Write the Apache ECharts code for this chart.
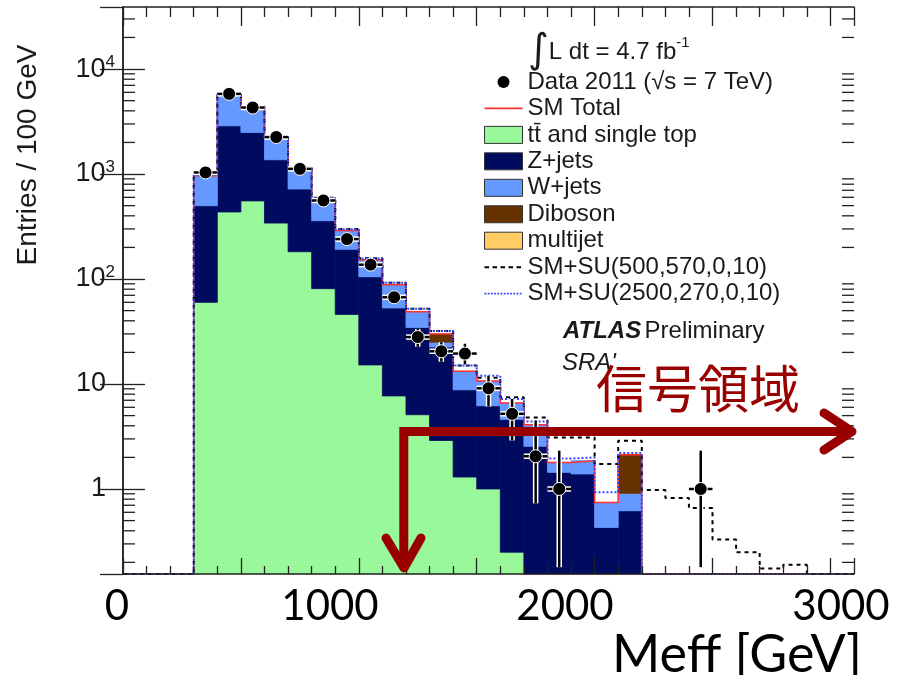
<!DOCTYPE html>
<html>
<head>
<meta charset="utf-8">
<title>Meff</title>
<script src="https://cdn.jsdelivr.net/npm/echarts@6/dist/echarts.min.js"></script>
<style>
html,body{margin:0;padding:0;background:#fff;}
#main{width:901px;height:675px;}
</style>
</head>
<body>
<div id="main"></div>
<script>
// bins of 100 GeV, first filled bin starts at 300 GeV
var binStart = 300;
var binWidth = 100;
var xMax = 3100;
var yMin = 0.155;
var yMax = 39000;

// SM backgrounds, 300 .. 2200 GeV
var ttbar    = [60, 435, 555, 341, 182, 81, 46, 15.2, 7.7, 5.1, 2.9, 1.3, 1.0, 0.25, 0, 0, 0, 0, 0];
var zjets    = [439, 2445, 1935, 1027, 538, 278, 146, 89.8, 45.3, 29.4, 19.6, 7.5, 5.2, 4.35, 2.55, 1.44, 1.39, 0.43, 0.62];
var wjets    = [465, 2900, 1810, 832, 420, 219, 98, 48, 35, 14.3, 2.5, 4.4, 4.5, 2.0, 1.55, 0.35, 0.47, 0.315, 0.29];
var diboson  = [0, 0, 0, 0, 0, 0, 0, 0, 0, 0, 5, 0, 0, 0, 0, 0, 0, 0, 1.21];
var multijet = [0, 0, 0, 0, 0, 0, 0, 0, 0, 0, 0, 0, 0, 0, 0, 0, 0, 0, 0];

// data 2011, 300 .. 2500 GeV (null = no entries)
var dataVal = [1035, 5800, 4300, 2250, 1120, 560, 240, 137, 67, 28, 20.5, 19.5, 9.1, 5.2, 2.05, 1.0, null, null, null, null, null, 1.0];
var dataHi  = [1067, 5876, 4366, 2297, 1153, 584, 256, 149, 75, 33.5, 25, 24.2, 12, 7.2, 4.5, 2.32, null, null, null, null, null, 2.32];
var dataLo  = [1003, 5724, 4234, 2203, 1087, 536, 224, 125, 59, 22.7, 16.3, 15.4, 6.1, 2.9, 0.73, 0.18, null, null, null, null, null, 0.18];

// SM+SU signal hypotheses, 300 .. 3000 GeV
var su500  = [990, 5900, 4400, 2260, 1170, 595, 300, 158, 92, 52, 32, 15, 11.5, 7.5, 4.8, 3.1, 3.1, 1.73, 2.88, 0.98, 0.82, 0.66, 0.33, 0.25, 0.175, 0.19, 0];
var su2500 = [985, 5850, 4350, 2240, 1160, 590, 298, 157, 92, 52, 32, 15, 12, 7.2, 4.4, 1.95, 2.0, 0.93, 2.2, 0, 0, 0, 0, 0, 0, 0, 0];

var xLabels = ['0', '1000', '2000', '3000'];

function clampY(v) {
    return v > yMin ? v : yMin;
}

// stacked layers -> rectangles
var layers = [
    {name: 'tt\u0304 and single top', vals: ttbar, color: '#99f899'},
    {name: 'Z+jets', vals: zjets, color: '#000b5f'},
    {name: 'W+jets', vals: wjets, color: '#6699ff'},
    {name: 'Diboson', vals: diboson, color: '#663300'},
    {name: 'multijet', vals: multijet, color: '#ffcc66'}
];
var cum = [];
for (var i = 0; i < ttbar.length; i++) cum.push(0);
layers.forEach(function (l) {
    l.rows = [];
    for (var i = 0; i < l.vals.length; i++) {
        var lo = cum[i];
        cum[i] += l.vals[i];
        var x0 = binStart + i * binWidth;
        if (l.vals[i] > 0) l.rows.push([x0, x0 + binWidth, lo, cum[i]]);
    }
});
var smTotal = cum;

function stepData(vals) {
    var pts = [];
    for (var x = 0; x < xMax; x += binWidth) {
        var i = (x - binStart) / binWidth;
        var v = (i >= 0 && i < vals.length) ? vals[i] : 0;
        pts.push([x, clampY(v)]);
    }
    pts.push([xMax, pts[pts.length - 1][1]]);
    return pts;
}

var dataRows = [];
for (var j = 0; j < dataVal.length; j++) {
    if (dataVal[j] == null) continue;
    dataRows.push([binStart + (j + 0.5) * binWidth, dataVal[j], dataLo[j], dataHi[j]]);
}

var minorY = [];
for (var k = -1; k <= 4; k++) {
    for (var m = 2; m <= 9; m++) {
        var mv = m * Math.pow(10, k);
        if (mv > yMin && mv < yMax) minorY.push([0, mv]);
    }
}

function histRect(params, api) {
    var p0 = api.coord([api.value(0), clampY(api.value(2))]);
    var p1 = api.coord([api.value(1), clampY(api.value(3))]);
    var c = api.visual('color');
    return {
        type: 'rect',
        shape: {x: p0[0], y: p1[1], width: p1[0] - p0[0], height: p0[1] - p1[1]},
        style: {fill: c, stroke: c, lineWidth: 0.8}
    };
}

function dataPoint(params, api) {
    var x = api.value(0), v = api.value(1);
    var c = api.coord([x, v]);
    var pl = api.coord([x - binWidth / 2, v]);
    var pr = api.coord([x + binWidth / 2, v]);
    var plo = api.coord([x, clampY(api.value(2))]);
    var phi = api.coord([x, api.value(3)]);
    var kids = [];
    [['#fff', 5.5], ['#000', 2.5]].forEach(function (s) {
        kids.push({type: 'line', shape: {x1: pl[0], y1: c[1], x2: pr[0], y2: c[1]}, style: {stroke: s[0], lineWidth: s[1]}});
        kids.push({type: 'line', shape: {x1: c[0], y1: plo[1], x2: c[0], y2: phi[1]}, style: {stroke: s[0], lineWidth: s[1]}});
    });
    kids.push({type: 'circle', shape: {cx: c[0], cy: c[1], r: 6.5}, style: {fill: '#000', stroke: '#fff', lineWidth: 1}});
    return {type: 'group', children: kids};
}

function minorTick(params, api) {
    var pl = api.coord([0, api.value(1)]);
    var pr = api.coord([xMax, api.value(1)]);
    return {type: 'group', children: [
        {type: 'line', shape: {x1: pl[0], y1: pl[1], x2: pl[0] + 12, y2: pl[1]}, style: {stroke: '#222', lineWidth: 1.3}},
        {type: 'line', shape: {x1: pr[0], y1: pr[1], x2: pr[0] - 12, y2: pr[1]}, style: {stroke: '#222', lineWidth: 1.3}}
    ]};
}

// legend icons
var iconDot = 'path://M0,0M38,17M25,8.5A6,6,0,1,1,13,8.5A6,6,0,1,1,25,8.5Z';
var iconSolid = 'path://M0,0M38,17M0,7.6L38,7.6L38,9.4L0,9.4Z';
var iconDash = 'path://M0,0M38,17';
for (var dx = 0; dx < 38; dx += 8) iconDash += 'M' + dx + ',7.5L' + (dx + 4.5) + ',7.5L' + (dx + 4.5) + ',9.5L' + dx + ',9.5Z';
var iconDot2 = 'path://M0,0M38,17';
for (var dd = 0; dd < 37; dd += 3.2) iconDot2 += 'M' + dd + ',7.6L' + (dd + 1.8) + ',7.6L' + (dd + 1.8) + ',9.4L' + dd + ',9.4Z';

var boxStyle = {borderColor: '#333', borderWidth: 1};
var txt = '#1a1a1a';
var red = '#990000';

var series = [];
layers.forEach(function (l) {
    series.push({
        name: l.name, type: 'custom', renderItem: histRect,
        encode: {x: [0, 1], y: [2, 3]},
        itemStyle: {color: l.color}, z: 2, silent: true, data: l.rows
    });
});
series.push({
    name: 'SM Total', type: 'line', step: 'end', symbol: 'none', color: '#ff3030',
    lineStyle: {color: '#ff3030', width: 1.5}, z: 3, silent: true, data: stepData(smTotal)
});
series.push({
    name: 'SM+SU(500,570,0,10)', type: 'line', step: 'end', symbol: 'none', color: '#000',
    lineStyle: {color: '#000', width: 2, type: [4, 4]}, z: 3, silent: true, data: stepData(su500)
});
series.push({
    name: 'SM+SU(2500,270,0,10)', type: 'line', step: 'end', symbol: 'none', color: '#3344ff',
    lineStyle: {color: '#3344ff', width: 2, type: [2, 2]}, z: 3, silent: true, data: stepData(su2500)
});
series.push({
    name: 'Data 2011 (\u221As = 7 TeV)', type: 'custom', renderItem: dataPoint,
    encode: {x: 0, y: 1}, itemStyle: {color: '#000'}, z: 4, silent: true, data: dataRows
});
series.push({
    name: 'minor', type: 'custom', renderItem: minorTick, encode: {x: 0, y: 1},
    z: 6, silent: true, data: minorY
});

var axisLine = {lineStyle: {color: '#222', width: 1.5}};

var myChart = echarts.init(document.getElementById('main'));
option = {
    animation: false,
    backgroundColor: '#fff',
    grid: {left: 123, right: 47, top: 7, bottom: 101},
    xAxis: [{
        type: 'value', min: 0, max: xMax, interval: 500, position: 'bottom', z: 6,
        axisLine: axisLine, axisLabel: {show: false}, splitLine: {show: false},
        axisTick: {inside: true, length: 16, lineStyle: {color: '#222', width: 1.3}},
        minorTick: {show: true, splitNumber: 5, length: 8, lineStyle: {color: '#222', width: 1.3}}
    }, {
        type: 'value', min: 0, max: xMax, interval: 500, position: 'top', z: 6,
        axisLine: axisLine, axisLabel: {show: false}, splitLine: {show: false},
        axisTick: {inside: true, length: 19, lineStyle: {color: '#222', width: 1.3}},
        minorTick: {show: true, splitNumber: 5, length: 10, lineStyle: {color: '#222', width: 1.3}}
    }],
    yAxis: [{
        type: 'log', logBase: 10, min: yMin, max: yMax, position: 'left', z: 6,
        axisLine: axisLine, splitLine: {show: false},
        axisTick: {inside: true, length: 22, lineStyle: {color: '#222', width: 1.3}},
        axisLabel: {
            margin: 8, showMinLabel: false, showMaxLabel: false,
            formatter: function (v) {
                if (Math.abs(v - 1) < 1e-6) return '{p|1}';
                if (Math.abs(v - 10) < 1e-6) return '{p|10}';
                var e = Math.round(Math.log(v) / Math.LN10);
                return '{n|10}{s|' + e + '}';
            },
            rich: {
                n: {fontFamily: 'Liberation Sans', fontSize: 27, color: txt, lineHeight: 30},
                p: {fontFamily: 'Liberation Sans', fontSize: 27, color: txt, lineHeight: 30, padding: [0, 9, 0, 0]},
                s: {fontFamily: 'Liberation Sans', fontSize: 17, color: txt, lineHeight: 30, verticalAlign: 'top'}
            }
        }
    }, {
        type: 'log', logBase: 10, min: yMin, max: yMax, position: 'right', z: 6,
        axisLine: axisLine, splitLine: {show: false}, axisLabel: {show: false},
        axisTick: {inside: true, length: 23, lineStyle: {color: '#222', width: 1.3}}
    }],
    legend: {
        orient: 'vertical', left: 479, top: 65,
        itemWidth: 38, itemHeight: 17, itemGap: 2.45, selectedMode: false,
        textStyle: {fontFamily: 'Liberation Sans', fontSize: 24, color: txt},
        data: [
            {name: 'Data 2011 (\u221As = 7 TeV)', icon: iconDot},
            {name: 'SM Total', icon: iconSolid},
            {name: 'tt\u0304 and single top', icon: 'rect', itemStyle: boxStyle},
            {name: 'Z+jets', icon: 'rect', itemStyle: boxStyle},
            {name: 'W+jets', icon: 'rect', itemStyle: boxStyle},
            {name: 'Diboson', icon: 'rect', itemStyle: boxStyle},
            {name: 'multijet', icon: 'rect', itemStyle: boxStyle},
            {name: 'SM+SU(500,570,0,10)', icon: iconDash},
            {name: 'SM+SU(2500,270,0,10)', icon: iconDot2}
        ]
    },
    graphic: [
        {type: 'text', x: 28, y: 155, rotation: Math.PI / 2,
            style: {text: 'Entries / 100 GeV', fill: txt, font: '28px "Liberation Sans"', textAlign: 'center', textVerticalAlign: 'middle'}},
        {type: 'text', x: 528, y: 52,
            style: {text: '{i|\u222B}{t|L dt = 4.7 fb}{s|-1}', textVerticalAlign: 'middle',
                rich: {
                    i: {fontFamily: 'DejaVu Sans', fontSize: 40, fill: txt, lineHeight: 46},
                    t: {fontFamily: 'Liberation Sans', fontSize: 24, fill: txt, lineHeight: 46},
                    s: {fontFamily: 'Liberation Sans', fontSize: 15, fill: txt, lineHeight: 46, verticalAlign: 'top', padding: [6, 0, 0, 0]}
                }}},
        {type: 'text', x: 563, y: 331,
            style: {text: '{b|ATLAS} {n|Preliminary}', textVerticalAlign: 'middle',
                rich: {
                    b: {fontFamily: 'Liberation Sans', fontSize: 24, fontWeight: 'bold', fontStyle: 'italic', fill: txt},
                    n: {fontFamily: 'Liberation Sans', fontSize: 24, fill: txt}
                }}},
        {type: 'text', x: 562, y: 363,
            style: {text: "SRA'", fill: txt, font: 'italic 24px "Liberation Sans"', textVerticalAlign: 'middle'}},
        // slide overlay: signal region
        {type: 'text', x: 596, y: 389, z: 120,
            style: {text: '信号領域', fill: red, font: '51px "Noto Sans CJK JP"', textVerticalAlign: 'middle'}},
        {type: 'polyline', z: 120, shape: {points: [[403.8, 566], [403.8, 431.5], [850, 431.5]]},
            style: {stroke: red, lineWidth: 9, fill: null, lineJoin: 'miter'}},
        {type: 'polyline', z: 120, shape: {points: [[824, 413], [852, 431.5], [824, 450]]},
            style: {stroke: red, lineWidth: 9, fill: null, lineCap: 'round', lineJoin: 'round'}},
        {type: 'polyline', z: 120, shape: {points: [[386, 538], [404, 568], [421, 538]]},
            style: {stroke: red, lineWidth: 9, fill: null, lineCap: 'round', lineJoin: 'round'}},
        {type: 'text', x: 117, y: 606, z: 120,
            style: {text: xLabels[0], fill: '#000', font: '42px Lato', textAlign: 'center', textVerticalAlign: 'middle'}},
        {type: 'text', x: 330, y: 606, z: 120,
            style: {text: xLabels[1], fill: '#000', font: '42px Lato', textAlign: 'center', textVerticalAlign: 'middle'}},
        {type: 'text', x: 565, y: 606, z: 120,
            style: {text: xLabels[2], fill: '#000', font: '42px Lato', textAlign: 'center', textVerticalAlign: 'middle'}},
        {type: 'text', x: 841, y: 606, z: 120,
            style: {text: xLabels[3], fill: '#000', font: '42px Lato', textAlign: 'center', textVerticalAlign: 'middle'}},
        {type: 'text', x: 862, y: 655, z: 120,
            style: {text: 'Meff [GeV]', fill: '#000', font: '52px Lato', textAlign: 'right', textVerticalAlign: 'middle'}}
    ],
    series: series
};
myChart.setOption(option);
</script>
</body>
</html>
